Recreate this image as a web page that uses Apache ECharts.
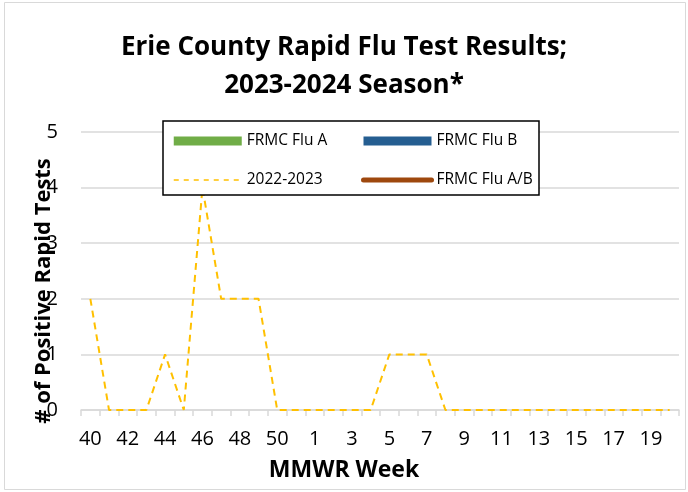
<!DOCTYPE html>
<html>
<head>
<meta charset="utf-8">
<script src="https://cdn.jsdelivr.net/npm/echarts@6/dist/echarts.min.js"></script>
<style>html,body{margin:0;padding:0;background:#fff}#c{width:688px;height:492px}</style>
</head>
<body>
<div id="c"></div>
<script>
var weeks = ['40','41','42','43','44','45','46','47','48','49','50','51','1','2','3','4','5','6','7','8','9','10','11','12','13','14','15','16','17','18','19','20'];
var fluA = [];
var fluB = [];
var fluAB = [];
var prev2022 = [2,0,0,0,1,0,4,2,2,2,0,0,0,0,0,0,1,1,1,0,0,0,0,0,0,0,0,0,0,0,0,0];
var yTicks = [0,1,2,3,4,5];

var FONT = 'Open Sans';
var legendText = {fontFamily: FONT, fontSize: 15.5, color: '#000', lineHeight: 20};
var chart = echarts.init(document.getElementById('c'));
chart.setOption({
  animation: false,
  backgroundColor: '#fff',
  title: {
    text: 'Erie County Rapid Flu Test Results;\n2023-2024 Season*',
    left: 'center', top: 24,
    textStyle: {fontFamily: FONT, fontWeight: 'bold', fontSize: 26, lineHeight: 38, color: '#000'}
  },
  grid: {left: 81, right: 9, top: 132, bottom: 82},
  graphic: [
    {type: 'rect', z: -10, shape: {x: 4.5, y: 2.5, width: 681, height: 487}, style: {fill: '#fff', stroke: '#d9d9d9', lineWidth: 1}},
    {type: 'rect', z: 3, shape: {x: 163, y: 121, width: 376, height: 74}, style: {fill: '#fff', stroke: '#000', lineWidth: 1.5}},
    {type: 'text', z: 5, x: 44, y: 291, rotation: Math.PI / 2,
      style: {text: '# of Positive Rapid Tests', fontFamily: FONT, fontWeight: 'bold', fontSize: 22, fill: '#000', textAlign: 'center', textVerticalAlign: 'middle'}},
    {type: 'text', z: 5, x: 344, y: 470,
      style: {text: 'MMWR Week', fontFamily: FONT, fontWeight: 'bold', fontSize: 23, fill: '#000', textAlign: 'center', textVerticalAlign: 'middle'}}
  ],
  legend: [
    {orient: 'vertical', left: 173, top: 131, padding: 0, itemGap: 19, itemWidth: 68, itemHeight: 9, z: 6,
      data: [
        {name: 'FRMC Flu A', icon: 'rect'},
        {name: '2022-2023', itemStyle: {opacity: 0}, lineStyle: {color: '#FFC000', width: 1.5, type: [5, 5]}}
      ],
      textStyle: legendText},
    {orient: 'vertical', left: 361, top: 131, padding: 0, itemGap: 19, itemWidth: 68, itemHeight: 9, z: 6,
      data: [
        {name: 'FRMC Flu B', icon: 'rect'},
        {name: 'FRMC Flu A/B', itemStyle: {opacity: 0}, lineStyle: {color: '#9E480E', width: 5, cap: 'round'}}
      ],
      textStyle: legendText}
  ],
  xAxis: {
    type: 'category', data: weeks, boundaryGap: true,
    axisLine: {lineStyle: {color: '#d9d9d9', width: 1.5}},
    axisTick: {show: true, interval: 0, length: 6, inside: false, lineStyle: {color: '#d9d9d9', width: 1.5}},
    axisLabel: {interval: 1, margin: 19, fontFamily: FONT, fontSize: 20, color: '#000'}
  },
  yAxis: {
    type: 'value', min: 0, max: 5, interval: 1,
    axisLine: {show: false}, axisTick: {show: false},
    splitLine: {lineStyle: {color: '#d9d9d9', width: 1.5}},
    axisLabel: {margin: 23, fontFamily: FONT, fontSize: 20, color: '#000',
      formatter: function (v) { return yTicks.indexOf(v) >= 0 ? String(v) : ''; }}
  },
  series: [
    {name: 'FRMC Flu A', type: 'bar', data: fluA, itemStyle: {color: '#70AD47'}},
    {name: 'FRMC Flu B', type: 'bar', data: fluB, itemStyle: {color: '#255E91'}},
    {name: '2022-2023', type: 'line', data: prev2022, symbol: 'none', z: 2,
      lineStyle: {color: '#FFC000', width: 2, type: [7, 5]}, itemStyle: {color: '#FFC000'}},
    {name: 'FRMC Flu A/B', type: 'line', data: fluAB, symbol: 'none',
      lineStyle: {color: '#9E480E', width: 5, cap: 'round'}, itemStyle: {color: '#9E480E'}}
  ]
});
</script>
</body>
</html>
